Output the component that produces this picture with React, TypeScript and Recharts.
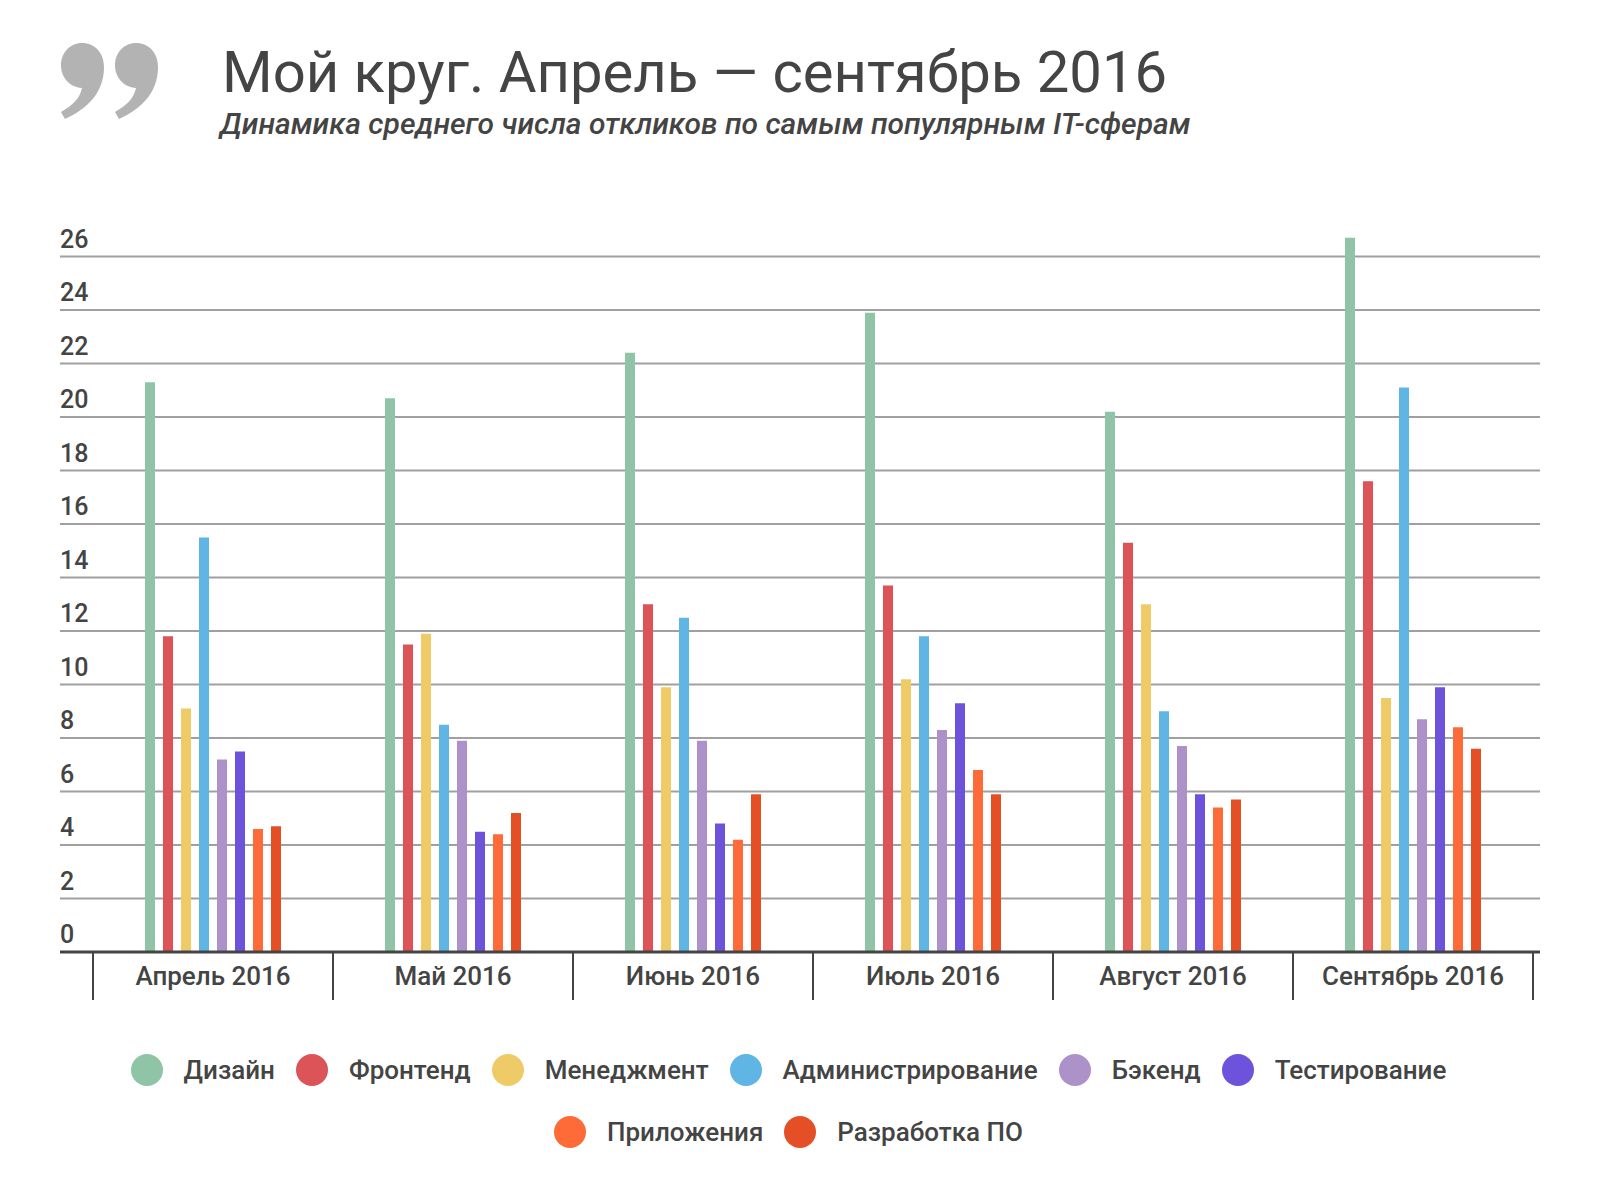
import React from "react";
import { BarChart, Bar, XAxis, YAxis, CartesianGrid } from "recharts";

const months = ["Апрель 2016", "Май 2016", "Июнь 2016", "Июль 2016", "Август 2016", "Сентябрь 2016"];
const design = [21.3, 20.7, 22.4, 23.9, 20.2, 26.7];
const frontend = [11.8, 11.5, 13.0, 13.7, 15.3, 17.6];
const management = [9.1, 11.9, 9.9, 10.2, 13.0, 9.5];
const admin = [15.5, 8.5, 12.5, 11.8, 9.0, 21.1];
const backend = [7.2, 7.9, 7.9, 8.3, 7.7, 8.7];
const testing = [7.5, 4.5, 4.8, 9.3, 5.9, 9.9];
const apps = [4.6, 4.4, 4.2, 6.8, 5.4, 8.4];
const dev = [4.7, 5.2, 5.9, 5.9, 5.7, 7.6];
const yTicks = [0, 2, 4, 6, 8, 10, 12, 14, 16, 18, 20, 22, 24, 26];

const series = [
  { key: "design", name: "Дизайн", color: "#8fc4a7", values: design },
  { key: "frontend", name: "Фронтенд", color: "#dc5358", values: frontend },
  { key: "management", name: "Менеджмент", color: "#efcb68", values: management },
  { key: "admin", name: "Администрирование", color: "#5fb6e5", values: admin },
  { key: "backend", name: "Бэкенд", color: "#ac92c9", values: backend },
  { key: "testing", name: "Тестирование", color: "#6d53db", values: testing },
  { key: "apps", name: "Приложения", color: "#ff6b38", values: apps },
  { key: "dev", name: "Разработка ПО", color: "#e54f26", values: dev },
];

const data = months.map((month, i) => {
  const row: Record<string, string | number> = { month };
  series.forEach((s) => (row[s.key] = s.values[i]));
  return row;
});

const TEXT = "#444444";
const FONT = "Roboto, 'Noto Sans', sans-serif";
const PLOT_LEFT = 60;
const PLOT_RIGHT = 1540;
const AXIS_Y = 952;
const PAD_L = 33;
const PAD_R = 7;
const BAND = (PLOT_RIGHT - PLOT_LEFT - PAD_L - PAD_R) / months.length;

// quote mark in the shape of a "9": round head, tail sweeping down-left
const QUOTE = "M21 0 C34 0 43 10 43 24 C43 50 26 66 4 76 L0 69 C12 62 19 55 21 45 C8 44 0 34 0 22 C0 10 9 0 21 0 Z";

function YTick({ y, payload }: any) {
  return (
    <text x={PLOT_LEFT} y={y - 9} fontSize={25} fontWeight={500} fill={TEXT} fontFamily={FONT}>
      {payload.value}
    </text>
  );
}

function XTick({ x, payload }: any) {
  return (
    <g>
      <line x1={x - BAND / 2} x2={x - BAND / 2} y1={AXIS_Y} y2={AXIS_Y + 48} stroke={TEXT} strokeWidth={2} />
      <line x1={x + BAND / 2} x2={x + BAND / 2} y1={AXIS_Y} y2={AXIS_Y + 48} stroke={TEXT} strokeWidth={2} />
      <text x={x} y={AXIS_Y + 33} textAnchor="middle" fontSize={26} fontWeight={500} fill={TEXT} fontFamily={FONT}>
        {payload.value}
      </text>
    </g>
  );
}

export default function App() {
  return (
    <div style={{ position: "absolute", left: 0, top: 0, width: 1598, height: 1186, background: "#fff", fontFamily: FONT }}>
      <svg width={1598} height={200} style={{ position: "absolute", left: 0, top: 0 }}>
        <path d={QUOTE} transform="translate(61 43)" fill="#b3b3b3" />
        <path d={QUOTE} transform="translate(115 43)" fill="#b3b3b3" />
        <text x={222} y={92} fontSize={58} fill={TEXT} fontFamily={FONT}>
          Мой круг. Апрель — сентябрь 2016
        </text>
        <text x={220} y={134} fontSize={30} fontStyle="italic" fontWeight={500} fill={TEXT} fontFamily={FONT}>
          Динамика среднего числа откликов по самым популярным IT-сферам
        </text>
      </svg>

      <div style={{ position: "absolute", left: 0, top: 0 }}>
        <BarChart
          width={1598}
          height={1010}
          data={data}
          margin={{ top: 203, right: 1598 - PLOT_RIGHT, left: 0, bottom: 0 }}
          barSize={10}
          barGap={8}
        >
          <CartesianGrid vertical={false} stroke="#a0a0a0" strokeWidth={2} syncWithTicks />
          <YAxis width={PLOT_LEFT} domain={[0, 28]} ticks={yTicks} interval={0} axisLine={false} tickLine={false} tick={<YTick />} />
          <XAxis
            dataKey="month"
            height={58}
            padding={{ left: PAD_L, right: PAD_R }}
            axisLine={{ stroke: TEXT, strokeWidth: 3 }}
            tickLine={false}
            interval={0}
            tick={<XTick />}
          />
          {series.map((s) => (
            <Bar key={s.key} dataKey={s.key} name={s.name} fill={s.color} isAnimationActive={false} />
          ))}
        </BarChart>
      </div>

      <div
        style={{
          position: "absolute",
          left: 119,
          top: 1054,
          width: 1360,
          display: "flex",
          flexWrap: "wrap",
          justifyContent: "center",
          rowGap: 30,
        }}
      >
        {series.map((s) => (
          <div key={s.key} style={{ display: "flex", alignItems: "center", height: 32, marginRight: 21 }}>
            <span style={{ width: 32, height: 32, borderRadius: 16, background: s.color, marginRight: 21 }} />
            <span style={{ fontSize: 26, fontWeight: 500, color: TEXT, lineHeight: "32px" }}>{s.name}</span>
          </div>
        ))}
      </div>
    </div>
  );
}
